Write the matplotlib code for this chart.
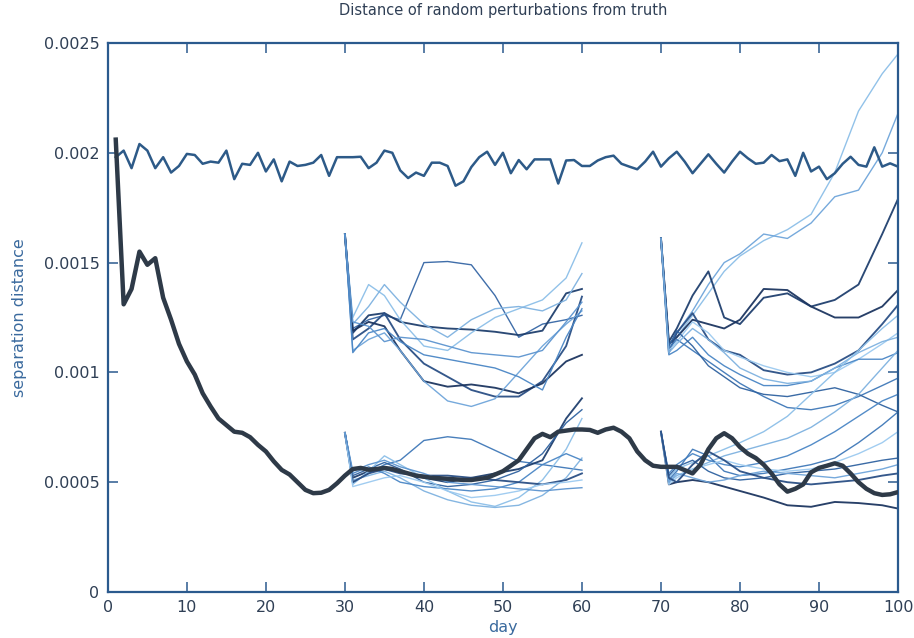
import numpy as np
import matplotlib
matplotlib.use("Agg")
import matplotlib.pyplot as plt

# ---------------- data (values in units of 1e-4) ----------------
days_full = list(range(1, 101))

control_top = [19.8, 20.1, 19.3, 20.4, 20.1, 19.3, 19.8, 19.1, 19.4, 19.95,
               19.9, 19.5, 19.6, 19.55, 20.1, 18.8, 19.5, 19.45, 20.0, 19.15,
               19.7, 18.7, 19.6, 19.4, 19.45, 19.55, 19.9, 18.95, 19.8, 19.8,
               19.8, 19.82, 19.3, 19.55, 20.1, 20.0, 19.2, 18.85, 19.1, 18.95,
               19.55, 19.55, 19.4, 18.5, 18.7, 19.35, 19.8, 20.05, 19.45, 20.0,
               19.07, 19.67, 19.25, 19.7, 19.7, 19.7, 18.6, 19.65, 19.67, 19.4,
               19.4, 19.65, 19.8, 19.87, 19.5, 19.37, 19.25, 19.6, 20.05, 19.37,
               19.75, 20.05, 19.6, 19.07, 19.5, 19.93, 19.5, 19.1, 19.6, 20.05,
               19.75, 19.5, 19.55, 19.9, 19.62, 19.7, 18.95, 20.0, 19.15, 19.37,
               18.8, 19.07, 19.5, 19.82, 19.45, 19.37, 20.25, 19.37, 19.52, 19.37]

truth_run = [20.6, 13.1, 13.8, 15.5, 14.9, 15.2, 13.4, 12.4, 11.3, 10.5,
             9.9, 9.05, 8.45, 7.9, 7.6, 7.3, 7.25, 7.05, 6.7, 6.4,
             5.95, 5.56, 5.35, 5.0, 4.65, 4.5, 4.52, 4.65, 4.95, 5.3,
             5.6, 5.65, 5.57, 5.6, 5.65, 5.6, 5.5, 5.4, 5.3, 5.25,
             5.2, 5.18, 5.15, 5.13, 5.1, 5.1, 5.15, 5.2, 5.35, 5.5,
             5.75, 6.0, 6.5, 7.0, 7.2, 7.05, 7.3, 7.35, 7.4, 7.4,
             7.38, 7.25, 7.4, 7.48, 7.3, 7.0, 6.4, 6.0, 5.75, 5.7,
             5.7, 5.7, 5.55, 5.4, 5.8, 6.5, 7.0, 7.23, 7.0, 6.6,
             6.3, 6.1, 5.8, 5.4, 4.9, 4.57, 4.7, 4.9, 5.45, 5.65,
             5.75, 5.86, 5.75, 5.4, 5.0, 4.7, 4.5, 4.42, 4.45, 4.55]

days_a = [30, 31, 33, 35, 37, 40, 43, 46, 49, 52, 55, 58, 60]
group_a = [
    [16.3, 12.0, 12.4, 12.6, 12.4, 15.0, 15.05, 14.9, 13.5, 11.6, 12.2, 12.4, 12.6],
    [16.3, 11.8, 12.6, 12.7, 12.3, 12.1, 12.0, 11.95, 11.85, 11.7, 11.9, 13.6, 13.8],
    [16.3, 12.5, 14.0, 13.5, 12.4, 11.2, 11.0, 11.8, 12.5, 12.9, 13.3, 14.3, 15.9],
    [16.3, 12.2, 13.0, 14.0, 13.2, 12.2, 11.6, 12.4, 12.9, 13.0, 12.8, 13.3, 14.5],
    [16.3, 11.5, 12.0, 12.7, 11.5, 10.4, 9.8, 9.2, 8.9, 8.9, 9.6, 11.2, 13.45],
    [16.3, 11.9, 12.3, 12.1, 11.0, 9.6, 9.35, 9.45, 9.3, 9.05, 9.5, 10.5, 10.8],
    [16.3, 11.0, 11.5, 11.8, 11.0, 9.6, 8.7, 8.45, 8.8, 10.0, 11.2, 12.2, 12.8],
    [16.3, 10.9, 11.8, 12.0, 11.4, 10.8, 10.6, 10.4, 10.2, 9.8, 9.2, 11.6, 12.9],
    [16.3, 12.3, 12.1, 11.4, 11.6, 11.5, 11.2, 10.9, 10.8, 10.7, 11.0, 12.3, 13.2],
]
group_b = [
    [7.25, 5.0, 5.4, 5.8, 6.0, 6.9, 7.07, 6.95, 6.45, 5.95, 5.8, 5.65, 5.55],
    [7.25, 5.2, 5.5, 5.6, 5.5, 5.2, 5.0, 5.2, 5.4, 5.6, 6.0, 7.9, 8.82],
    [7.25, 5.3, 5.6, 5.9, 5.6, 5.0, 4.8, 4.9, 5.1, 5.5, 6.3, 7.7, 8.3],
    [7.25, 4.9, 5.5, 6.2, 5.8, 5.2, 4.6, 4.1, 3.9, 4.3, 5.1, 6.5, 7.9],
    [7.25, 5.1, 5.3, 5.5, 5.2, 4.6, 4.2, 3.95, 3.85, 3.95, 4.4, 5.2, 6.1],
    [7.25, 5.4, 5.7, 5.4, 5.0, 4.8, 4.7, 4.6, 4.7, 5.0, 5.8, 6.3, 6.0],
    [7.25, 5.0, 5.4, 5.6, 5.4, 5.3, 5.3, 5.2, 5.1, 5.0, 4.9, 5.1, 5.4],
    [7.25, 4.8, 5.0, 5.2, 5.3, 5.0, 4.6, 4.3, 4.4, 4.6, 4.9, 5.0, 5.1],
    [7.25, 5.5, 5.8, 6.0, 5.7, 5.4, 5.0, 4.9, 4.8, 4.7, 4.6, 4.7, 4.75],
]

days_c = [70, 71, 72, 74, 76, 78, 80, 83, 86, 89, 92, 95, 98, 100]
group_c = [
    [16.1, 11.0, 11.6, 12.6, 13.6, 14.6, 15.3, 16.0, 16.5, 17.2, 19.1, 21.9, 23.6, 24.5],
    [16.1, 11.2, 11.8, 12.8, 14.0, 15.0, 15.4, 16.3, 16.1, 16.8, 18.0, 18.3, 20.0, 21.8],
    [16.1, 11.4, 12.0, 13.5, 14.6, 12.5, 12.2, 13.4, 13.6, 13.0, 13.3, 14.0, 16.3, 17.9],
    [16.1, 11.3, 11.6, 12.4, 12.2, 12.0, 12.4, 13.8, 13.75, 13.0, 12.5, 12.5, 13.0, 13.75],
    [16.1, 10.9, 11.8, 12.7, 11.5, 11.0, 10.8, 10.1, 9.9, 10.0, 10.4, 11.0, 12.2, 13.07],
    [16.1, 11.0, 11.4, 12.3, 11.8, 11.0, 10.7, 10.3, 10.0, 9.8, 10.0, 10.6, 11.3, 11.8],
    [16.1, 10.8, 11.0, 11.6, 10.8, 10.3, 9.9, 9.4, 9.4, 9.6, 10.2, 10.6, 10.6, 10.9],
    [16.1, 11.1, 11.5, 11.0, 10.5, 10.0, 9.5, 8.9, 8.4, 8.3, 8.5, 8.9, 9.4, 9.74],
    [16.1, 11.2, 11.9, 11.2, 10.3, 9.8, 9.3, 9.0, 8.9, 9.1, 9.3, 9.0, 8.5, 8.2],
    [16.1, 10.9, 11.3, 12.0, 11.5, 10.9, 10.2, 9.7, 9.5, 9.6, 10.2, 10.9, 11.4, 11.6],
]
group_d = [
    [7.3, 4.9, 5.0, 5.1, 5.0, 4.8, 4.6, 4.3, 3.95, 3.88, 4.1, 4.05, 3.95, 3.8],
    [7.3, 5.2, 5.6, 5.9, 6.2, 6.5, 6.8, 7.3, 8.0, 9.0, 10.0, 11.0, 12.0, 12.6],
    [7.3, 5.0, 5.3, 5.6, 5.9, 6.2, 6.4, 6.7, 7.0, 7.5, 8.2, 9.0, 10.2, 11.0],
    [7.3, 5.4, 5.8, 6.3, 6.0, 5.8, 5.7, 5.9, 6.2, 6.7, 7.3, 8.0, 8.7, 9.0],
    [7.3, 5.1, 5.5, 6.5, 6.2, 5.5, 5.3, 5.4, 5.6, 5.8, 6.1, 6.8, 7.6, 8.2],
    [7.3, 4.9, 5.2, 5.6, 5.8, 6.0, 5.8, 5.6, 5.5, 5.6, 5.9, 6.3, 6.8, 7.3],
    [7.3, 5.3, 5.7, 6.0, 5.5, 5.2, 5.1, 5.2, 5.4, 5.5, 5.6, 5.8, 6.0, 6.1],
    [7.3, 5.0, 5.4, 5.2, 5.0, 5.1, 5.3, 5.5, 5.4, 5.3, 5.2, 5.4, 5.6, 5.8],
    [7.3, 5.2, 5.0, 5.8, 6.4, 6.0, 5.5, 5.2, 5.0, 4.9, 5.0, 5.1, 5.3, 5.4],
]

x_ticks = [0, 10, 20, 30, 40, 50, 60, 70, 80, 90, 100]
y_ticks = [0, 0.0005, 0.001, 0.0015, 0.002, 0.0025]
y_tick_labels = ["0", "0.0005", "0.001", "0.0015", "0.002", "0.0025"]

# ---------------- styling ----------------
DARK = ["#1f3f6e", "#1c3560", "#2a4f85"]
colors_a = ["#3566a5", "#1f3f6e", "#8cbfe8", "#7fb2e0", "#2a4f85",
            "#1c3560", "#6fa5da", "#4a86c5", "#5c94cf"]
colors_b = ["#3f78b8", "#1f3f6e", "#2f62a0", "#8cbfe8", "#7fb2e0",
            "#4a86c5", "#2a4f85", "#9ccaf0", "#5c94cf"]
colors_c = ["#8cbfe8", "#6fa5da", "#1f3f6e", "#1c3560", "#2a4f85",
            "#9ccaf0", "#4a86c5", "#3f78b8", "#2f62a0", "#7fb2e0"]
colors_d = ["#1c3560", "#8cbfe8", "#7fb2e0", "#4a86c5", "#3f78b8",
            "#9ccaf0", "#2f62a0", "#6fa5da", "#2a4f85"]
AX = "#2b5a8e"
SCALE = 1e-4

fig = plt.figure(figsize=(9.14, 6.38), dpi=100)
ax = fig.add_axes([0.118, 0.0721, 0.8645, 0.8605])

def draw_group(days, group, cols):
    for vals, col in zip(group, cols):
        lw = 1.35 if col in DARK else 1.0
        ax.plot(days, np.array(vals) * SCALE, color=col, lw=lw, alpha=0.95,
                solid_joinstyle="round", zorder=2)

draw_group(days_a, group_a, colors_a)
draw_group(days_a, group_b, colors_b)
draw_group(days_c, group_c, colors_c)
draw_group(days_c, group_d, colors_d)

ax.plot(days_full, np.array(control_top) * SCALE, color="#2d5a88", lw=1.8, zorder=3)
ax.plot(days_full, np.array(truth_run) * SCALE, color="#2e3a48", lw=3.2,
        solid_joinstyle="round", zorder=4)

ax.set_xlim(0, 100)
ax.set_ylim(0, 0.0025)
ax.set_xticks(x_ticks)
ax.set_yticks(y_ticks)
ax.set_yticklabels(y_tick_labels)
ax.tick_params(direction="in", length=7, width=1.1, color=AX, top=True, right=True,
               labelsize=11.5, labelcolor="#2f3f55", pad=6)
for s in ax.spines.values():
    s.set_color(AX)
    s.set_linewidth(1.6)

ax.set_title("Distance of random perturbations from truth", fontsize=10.5,
             color="#2f3f55", pad=20)
ax.set_xlabel("day", fontsize=11.5, color="#3a6a9e", labelpad=3)
ax.set_ylabel("separation distance", fontsize=11.5, color="#3a6a9e", labelpad=12)

fig.savefig("out.png", dpi=100)
